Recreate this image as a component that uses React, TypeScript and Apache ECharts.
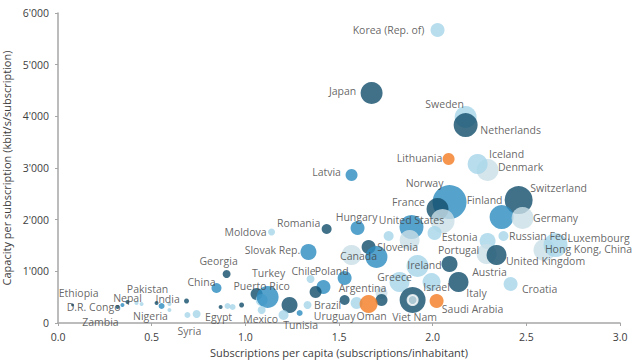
import React, { useEffect, useRef } from "react";
import * as echarts from "echarts";

// Draw order matters (later items on top)
const countries = [
  "Korea (Rep. of)", "Japan", "Sweden", "Netherlands", "Lithuania", "Denmark", "Iceland", "Latvia",
  "Norway", "France", "", "Switzerland", "Finland", "Germany", "Russian Fed.", "Estonia",
  "Portugal", "United Kingdom", "Hong Kong, China", "Luxembourg", "Croatia", "Austria", "Italy", "Ireland",
  "Greece", "Israel", "Saudi Arabia", "Viet Nam", "", "Hungary", "Romania", "Moldova",
  "Slovak Rep.", "Canada", "", "", "United States", "Slovenia", "", "",
  "Poland", "Chile", "", "", "Brazil", "Uruguay", "", "Argentina",
  "Oman", "Turkey", "", "Puerto Rico", "Mexico", "", "", "",
  "Tunisia", "Egypt", "", "", "", "Syria", "", "",
  "China", "Georgia", "India", "Pakistan", "", "Nigeria", "Nepal", "",
  "", "D.R. Congo", "Zambia", "Ethiopia",
];
const subscriptionsPerCapita = [
  2.026, 1.674, 2.176, 2.176, 2.085, 2.293, 2.24, 1.567,
  2.09, 2.026, 2.053, 2.459, 2.368, 2.48, 2.378, 2.293,
  2.288, 2.341, 2.597, 2.656, 2.416, 2.09, 2.138, 1.919,
  1.823, 1.994, 2.021, 1.893, 1.893, 1.599, 1.434, 1.14,
  1.337, 1.567, 1.658, 1.7, 1.887, 1.877, 1.765, 2.01,
  1.53, 1.348, 1.417, 1.375, 1.53, 1.594, 1.727, 1.727,
  1.658, 1.06, 1.087, 1.119, 1.087, 1.236, 1.332, 1.204,
  1.29, 0.868, 0.905, 0.932, 0.98, 0.691, 0.74, 0.686,
  0.846, 0.9, 0.553, 0.526, 0.595, 0.595, 0.371, 0.419,
  0.446, 0.318, 0.344, 0.078,
];
const capacityPerSubscription = [
  5670, 4450, 3986, 3831, 3173, 2961, 3077, 2864,
  2341, 2206, 1974, 2380, 2051, 2032, 1683, 1587,
  1335, 1316, 1413, 1509, 755, 1142, 793, 1103,
  793, 793, 426, 445, 445, 1838, 1819, 1761,
  1374, 1316, 1471, 1277, 1858, 1606, 1683, 1742,
  871, 851, 697, 600, 445, 387, 581, 445,
  368, 561, 445, 503, 252, 348, 348, 155,
  194, 310, 329, 310, 348, 155, 174, 426,
  677, 948, 329, 387, 368, 252, 406, 387,
  368, 310, 348, 348,
];
const bubbleSize = [
  14, 22, 22, 24, 12, 22, 20, 12,
  34, 22, 24, 28, 24, 22, 10, 16,
  20, 20, 22, 24, 14, 16, 20, 22,
  20, 18, 14, 26, 10, 14, 10, 7,
  16, 20, 14, 22, 24, 20, 10, 14,
  14, 8, 14, 12, 10, 12, 12, 12,
  18, 12, 12, 22, 8, 16, 8, 10,
  6, 4, 6, 6, 5, 6, 8, 5,
  10, 8, 6, 4, 4, 4, 4, 4,
  4, 4, 4, 3,
];
// D dark, M medium, L light, G grey, O orange
const groupOf = [
  "L", "D", "L", "D", "O", "G", "L", "M",
  "M", "D", "G", "D", "M", "G", "L", "L",
  "G", "D", "G", "L", "L", "D", "D", "L",
  "L", "L", "O", "D", "G", "M", "D", "L",
  "M", "G", "D", "M", "M", "G", "L", "L",
  "M", "L", "M", "D", "D", "L", "G", "D",
  "O", "D", "L", "M", "L", "D", "L", "L",
  "M", "D", "L", "L", "D", "L", "L", "D",
  "M", "D", "M", "D", "L", "L", "D", "L",
  "L", "D", "M", "D",
];

const COLORS: Record<string, string> = {
  D: "#124d6c",
  M: "#2b8bbf",
  L: "#a6d6ea",
  G: "#c9dee7",
  O: "#f27a22",
};

// label centre offsets (pixels) relative to bubble centre
const LABEL_OFFSET: Record<string, [number, number]> = {
  "Korea (Rep. of)": [-49, 0],
  Japan: [-29, -2],
  Sweden: [-21, -13],
  Netherlands: [45, 5],
  Lithuania: [-29, -1],
  Iceland: [29, -10],
  Denmark: [33, -3],
  Latvia: [-25, -3],
  Norway: [-25, -19],
  France: [-29, -7],
  Finland: [-17, -17],
  Switzerland: [40, -12],
  Germany: [33, 0],
  "Russian Fed.": [36, 0],
  Estonia: [-28, -4],
  Portugal: [-28, -4],
  "United Kingdom": [49, 6],
  "Hong Kong, China": [44, -1],
  Luxembourg: [43, -7],
  Croatia: [29, 5],
  Austria: [40, 8],
  Italy: [18, 11],
  Ireland: [7, -1],
  Greece: [-5, -5],
  Israel: [5, 5],
  "Saudi Arabia": [36, 8],
  "Viet Nam": [2, 17],
  Hungary: [-1, -11],
  Romania: [-28, -6],
  Moldova: [-26, 0],
  "Slovak Rep.": [-36, -2],
  Canada: [7, 1],
  "United States": [0, -7],
  Slovenia: [-12, 7],
  Poland: [-13, -7],
  Chile: [-7, -8],
  Brazil: [-17, 5],
  Uruguay: [-22, 13],
  Argentina: [-19, -12],
  Oman: [3, 12],
  Turkey: [12, -21],
  "Puerto Rico": [-6, -11],
  Mexico: [-1, 9],
  Tunisia: [1, 12],
  Egypt: [-2, 10],
  Syria: [2, 16],
  China: [-15, -6],
  Georgia: [-8, -13],
  India: [6, -7],
  Pakistan: [-9, -14],
  Nigeria: [-19, 6],
  Nepal: [0, -4],
  "D.R. Congo": [-24, 0],
  Zambia: [-22, 17],
  Ethiopia: [6, -12],
};

const FONT = "'Open Sans', 'Liberation Sans', sans-serif";

export default function App() {
  const ref = useRef<HTMLDivElement>(null);
  useEffect(() => {
    if (!ref.current) return;
    const chart = echarts.init(ref.current, null, { renderer: "svg" });
    const data = countries.map((name, i) => {
      const isInner = name === "" && i === 28;
      const off = LABEL_OFFSET[name] || [0, 0];
      const s = bubbleSize[i];
      return {
        name,
        value: [subscriptionsPerCapita[i], capacityPerSubscription[i]],
        symbolSize: s,
        itemStyle: {
          color: COLORS[groupOf[i]],
          borderColor: isInner ? "#ffffff" : undefined,
          borderWidth: isInner ? 2 : 0,
        },
        label: name
          ? {
              show: true,
              formatter: name,
              position: [s / 2 + off[0], s / 2 + off[1]],
              align: "center",
              verticalAlign: "middle",
              color: "#404040",
              fontSize: 10.5,
              fontFamily: FONT,
            }
          : { show: false },
      };
    });
    const fmtThousands = (v: number) => {
      if (v === 0) return "0";
      const str = String(Math.round(v));
      return str.replace(/\B(?=(\d{3})+(?!\d))/g, "'");
    };
    chart.setOption({
      animation: false,
      backgroundColor: "#ffffff",
      textStyle: { fontFamily: FONT },
      grid: {
        left: 58,
        right: 20,
        top: 13,
        bottom: 37,
        containLabel: false,
        outerBoundsMode: "none",
      },
      xAxis: {
        type: "value",
        min: 0,
        max: 3,
        interval: 0.5,
        name: "Subscriptions per capita (subscriptions/inhabitant)",
        nameLocation: "middle",
        nameGap: 23,
        nameTextStyle: { color: "#404040", fontSize: 11, fontFamily: FONT },
        axisLine: { show: true, lineStyle: { color: "#a6a6a6", width: 1.5 } },
        axisTick: { show: true, inside: false, length: 3, lineStyle: { color: "#a6a6a6" } },
        splitLine: { show: false },
        axisLabel: {
          color: "#404040",
          fontSize: 10.5,
          margin: 8,
          fontFamily: FONT,
          formatter: (v: number) => v.toFixed(1),
        },
      },
      yAxis: {
        type: "value",
        min: 0,
        max: 6000,
        interval: 1000,
        name: "Capacity per subscription (kbit/s/subscription)",
        nameLocation: "middle",
        nameGap: 44,
        nameTextStyle: { color: "#404040", fontSize: 11, fontFamily: FONT },
        axisLine: { show: true, lineStyle: { color: "#a6a6a6", width: 1.5 } },
        axisTick: { show: true, inside: false, length: 3, lineStyle: { color: "#a6a6a6" } },
        splitLine: { show: false },
        axisLabel: {
          color: "#404040",
          fontSize: 10.5,
          margin: 9,
          fontFamily: FONT,
          formatter: fmtThousands,
        },
      },
      series: [
        {
          type: "scatter",
          symbol: "circle",
          data,
          emphasis: { disabled: true },
          labelLayout: { hideOverlap: false },
        },
      ],
    });
    return () => chart.dispose();
  }, []);
  return (
    <div
      ref={ref}
      style={{ position: "fixed", left: 0, top: 0, width: 640, height: 360 }}
    />
  );
}
